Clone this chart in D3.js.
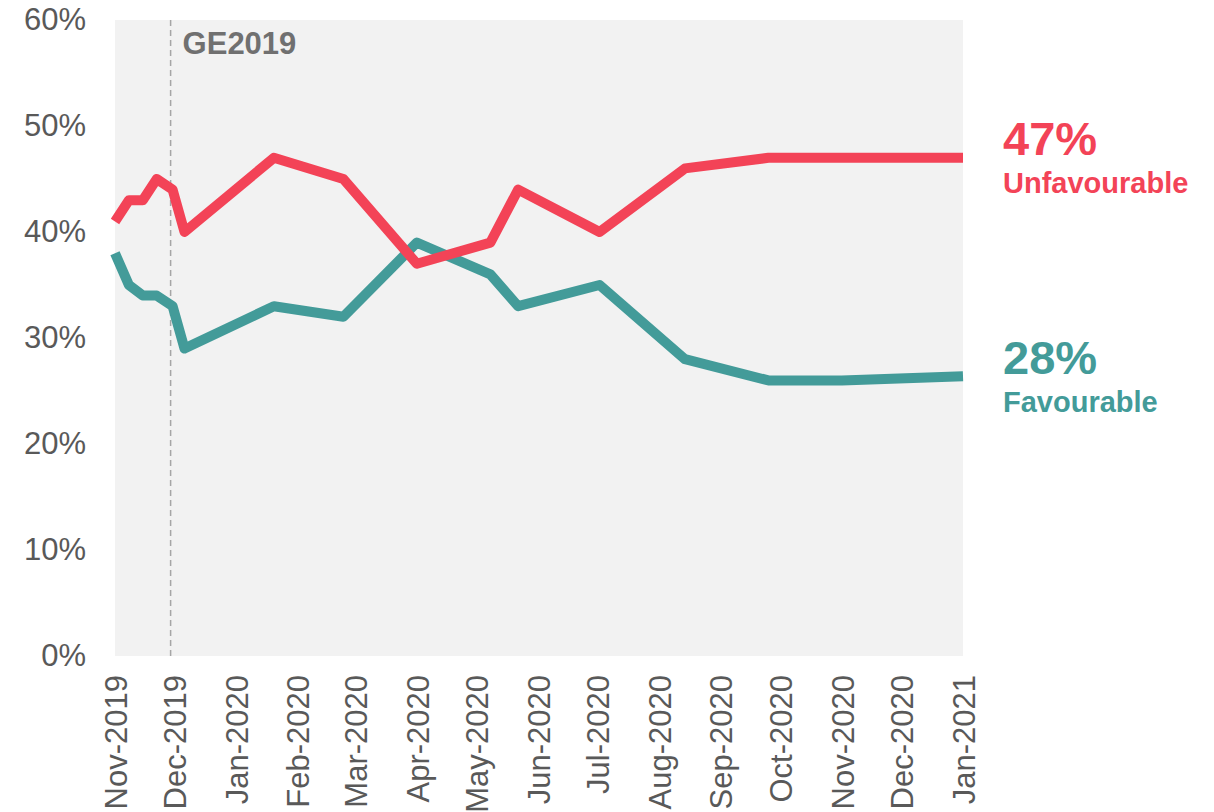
<!DOCTYPE html>
<html>
<head>
<meta charset="utf-8">
<script src="https://cdn.jsdelivr.net/npm/d3@7"></script>
<style>
  body { margin: 0; background: #fff; }
  svg text { font-family: "Liberation Sans", Arial, sans-serif; }
</style>
</head>
<body>
<svg id="chart" width="1214" height="812"></svg>
<script>
// survey dates and values (% of respondents)
var dates = ["2019-11-01", "2019-11-08", "2019-11-15", "2019-11-22", "2019-11-30", "2019-12-06",
             "2020-01-20", "2020-02-24", "2020-04-01", "2020-05-08", "2020-05-22", "2020-07-02",
             "2020-08-14", "2020-09-25", "2020-11-01", "2021-01-01"];
var unfavourable = [41, 43, 43, 45, 44, 40, 47, 45, 37, 39, 44, 40, 46, 47, 47, 47];
var favourable   = [38, 35, 34, 34, 33, 29, 33, 32, 39, 36, 33, 35, 28, 26, 26, 26.4];

var yTicks = [0, 10, 20, 30, 40, 50, 60];
var electionDate = "2019-11-29";
var endLabels = [
    {value: "47%", name: "Unfavourable", color: "#f34357"},
    {value: "28%", name: "Favourable", color: "#439b99"}
];

var parse = d3.timeParse("%Y-%m-%d");
var fmt = d3.timeFormat("%b-%Y");

var svg = d3.select("#chart");

//plot box (don't call these top/left, window.top is taken)
var pLeft = 115, pRight = 963, pTop = 20, pBottom = 656;

var x = d3.scaleTime()
    .domain([parse("2019-11-01"), parse("2021-01-01")])
    .range([pLeft, pRight]);

var y = d3.scaleLinear()
    .domain([0, 60])
    .range([pBottom, pTop]);

//grey plot background
svg.append("rect")
    .attr("x", pLeft)
    .attr("y", pTop)
    .attr("width", pRight - pLeft)
    .attr("height", pBottom - pTop)
    .attr("fill", "#f2f2f2");

//y axis labels
var yAxis = d3.axisLeft(y)
    .tickValues(yTicks)
    .tickSize(0)
    .tickPadding(29)
    .tickFormat(function(d) { return d + "%"; });

svg.append("g")
    .attr("transform", "translate(" + pLeft + ",0)")
    .call(yAxis)
    .call(function(g) { g.select(".domain").remove(); })
    .selectAll("text")
        .attr("font-size", "31px")
        .attr("fill", "#595959");

//x axis labels, rotated
var xAxis = d3.axisBottom(x)
    .ticks(d3.timeMonth.every(1))
    .tickSize(0)
    .tickFormat(fmt);

svg.append("g")
    .attr("transform", "translate(0," + pBottom + ")")
    .call(xAxis)
    .call(function(g) { g.select(".domain").remove(); })
    .selectAll("text")
        .attr("font-size", "31px")
        .attr("fill", "#595959")
        .attr("transform", "rotate(-90)")
        .attr("text-anchor", "end")
        .attr("x", -19)
        .attr("y", 0)
        .attr("dy", "0.36em");

//election marker
svg.append("line")
    .attr("x1", x(parse(electionDate)))
    .attr("x2", x(parse(electionDate)))
    .attr("y1", pTop)
    .attr("y2", pBottom)
    .attr("stroke", "#a6a6a6")
    .attr("stroke-width", 1.5)
    .attr("stroke-dasharray", "6,4");

svg.append("text")
    .attr("x", x(parse(electionDate)) + 12)
    .attr("y", 54)
    .attr("font-size", "31px")
    .attr("font-weight", "bold")
    .attr("fill", "#707070")
    .text("GE2019");

//lines
var line = d3.line()
    .x(function(d) { return x(d[0]); })
    .y(function(d) { return y(d[1]); });

var favPts = dates.map(function(d, i) { return [parse(d), favourable[i]]; });
var unfavPts = dates.map(function(d, i) { return [parse(d), unfavourable[i]]; });

svg.append("path")
    .attr("d", line(favPts))
    .attr("fill", "none")
    .attr("stroke", endLabels[1].color)
    .attr("stroke-width", 10)
    .attr("stroke-linejoin", "round");

svg.append("path")
    .attr("d", line(unfavPts))
    .attr("fill", "none")
    .attr("stroke", endLabels[0].color)
    .attr("stroke-width", 10)
    .attr("stroke-linejoin", "round");

//end labels
var labelY = [155, 374];
endLabels.forEach(function(l, i) {
    svg.append("text")
        .attr("x", 1003)
        .attr("y", labelY[i])
        .attr("font-size", "47px")
        .attr("font-weight", "bold")
        .attr("fill", l.color)
        .text(l.value);
    svg.append("text")
        .attr("x", 1003)
        .attr("y", labelY[i] + 38)
        .attr("font-size", "29px")
        .attr("font-weight", "bold")
        .attr("fill", l.color)
        .text(l.name);
});
</script>
</body>
</html>
